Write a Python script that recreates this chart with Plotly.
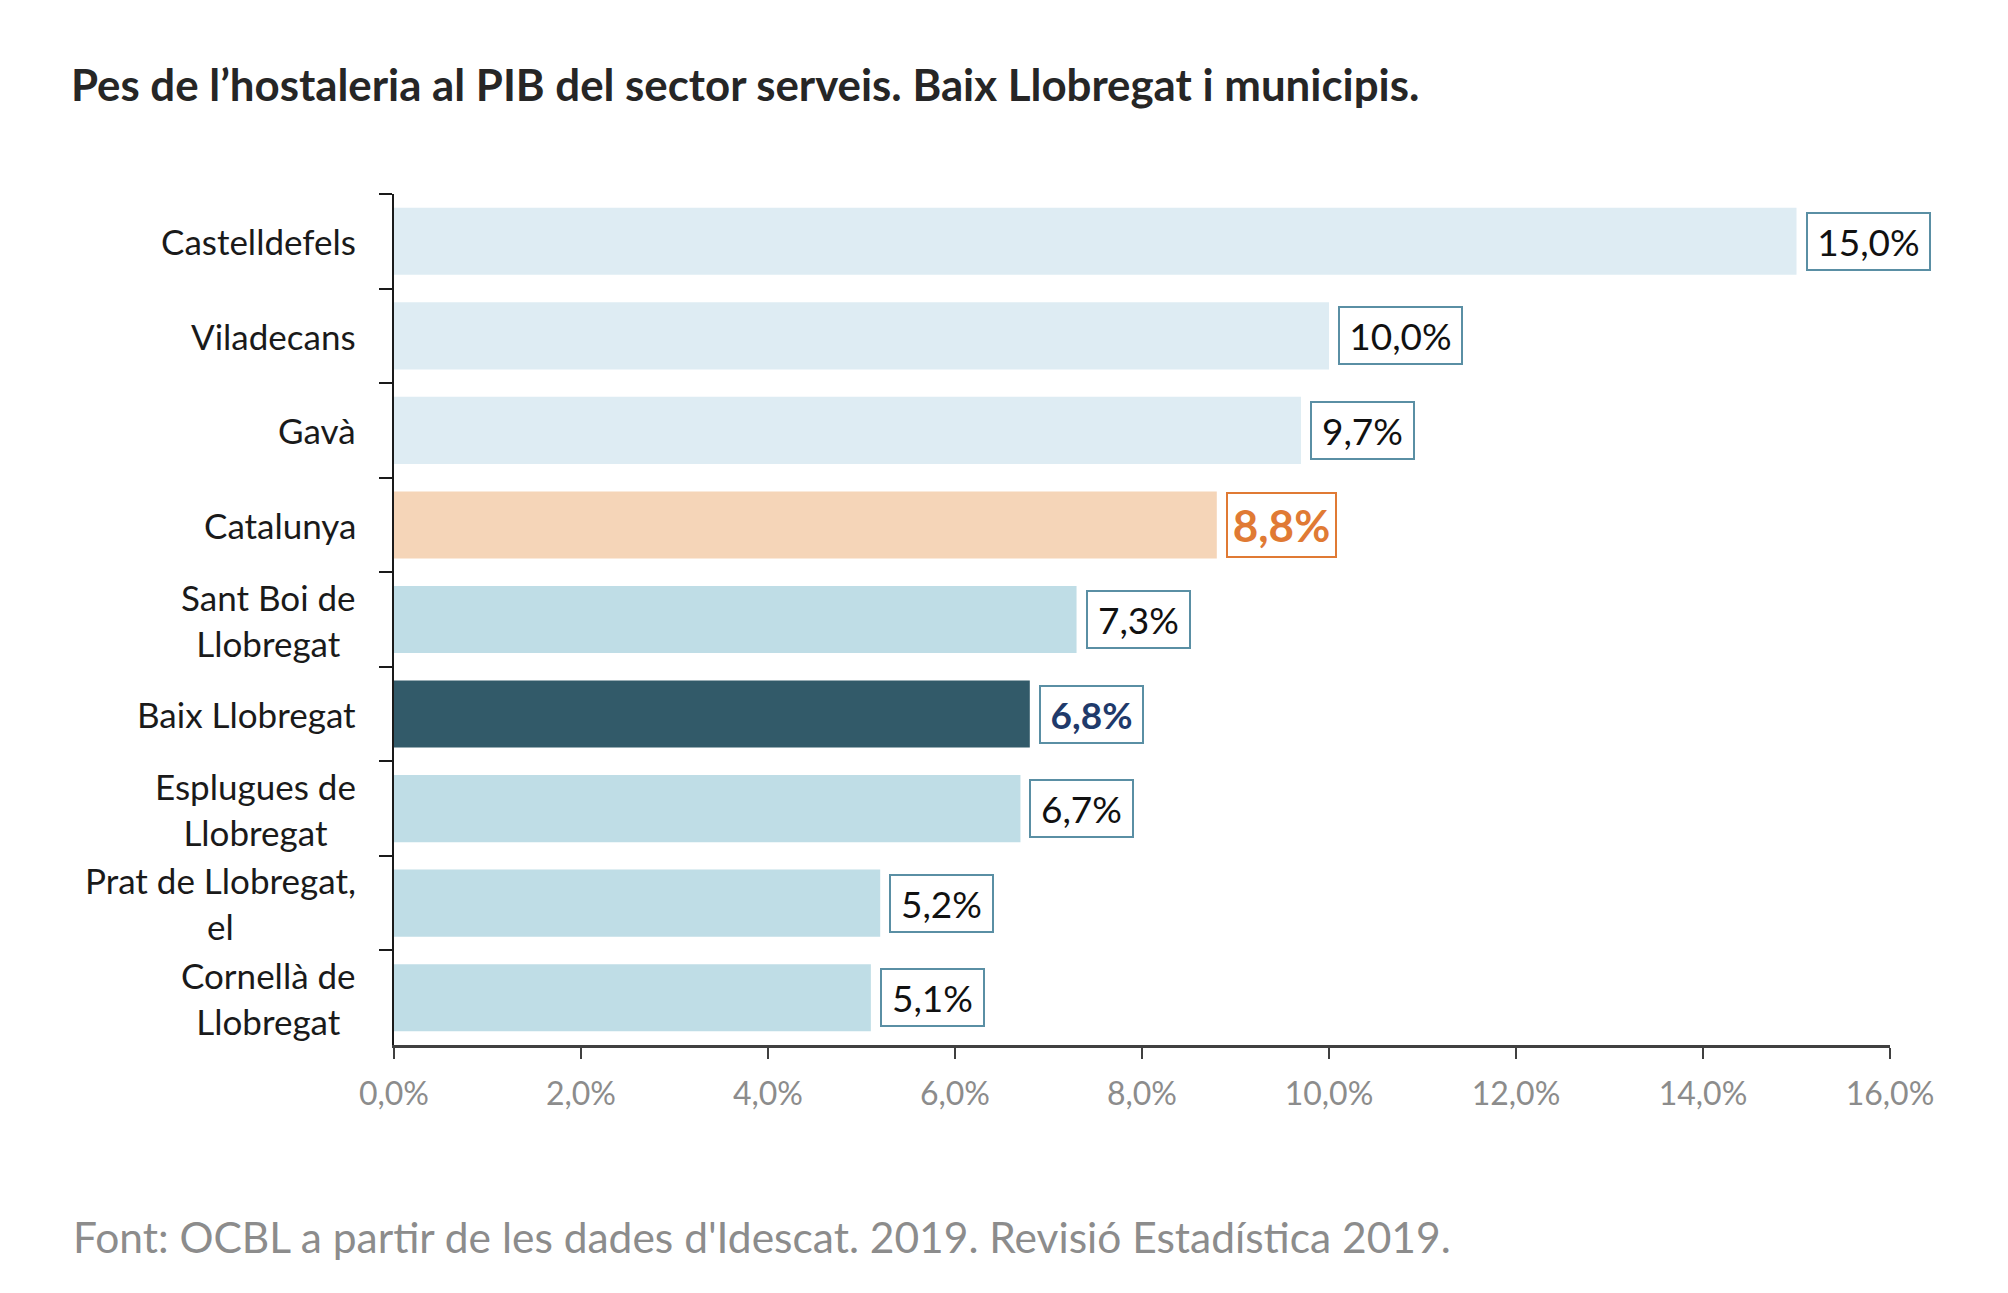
import plotly.graph_objects as go

# data
municipis = ["Castelldefels", "Viladecans", "Gavà", "Catalunya",
             "Sant Boi de<br>Llobregat", "Baix Llobregat",
             "Esplugues de<br>Llobregat", "Prat de Llobregat,<br>el",
             "Cornellà de<br>Llobregat"]
pes_hostaleria = [15.0, 10.0, 9.7, 8.8, 7.3, 6.8, 6.7, 5.2, 5.1]
x_ticks = [0, 2, 4, 6, 8, 10, 12, 14, 16]
x_tick_labels = ["0,0%", "2,0%", "4,0%", "6,0%", "8,0%", "10,0%", "12,0%", "14,0%", "16,0%"]

titol = "Pes de l\u2019hostaleria al PIB del sector serveis. Baix Llobregat i municipis."
font_text = "Font: OCBL a partir de les dades d'Idescat. 2019. Revisió Estadística 2019."

FONT = "Lato"
L, R, T, B = 386, 126, 186, 256
W, H = 2008, 1293
PW, PH = W - L - R, H - T - B

# bar colours per row
bar_colors = []
for m in municipis:
    if m == "Catalunya":
        bar_colors.append("#F5D5B8")
    elif m == "Baix Llobregat":
        bar_colors.append("#325A69")
    elif m in ("Castelldefels", "Viladecans", "Gavà"):
        bar_colors.append("#DEECF3")
    else:
        bar_colors.append("#BFDDE6")

fig = go.Figure(go.Bar(
    x=pes_hostaleria,
    y=municipis,
    orientation="h",
    marker=dict(color=bar_colors, line=dict(width=0)),
    hoverinfo="skip",
))

# value labels in boxes
for m, v in zip(municipis, pes_hostaleria):
    txt = f"{v:.1f}%".replace(".", ",")
    color, border, size, bold = "#111111", "#5A8FA4", 37, False
    if m == "Catalunya":
        color, border, size, bold = "#E07A34", "#E07A34", 44, True
    elif m == "Baix Llobregat":
        color, bold = "#1F3A6B", True
    fig.add_annotation(
        x=v, y=m, xref="x", yref="y",
        text=f"<b>{txt}</b>" if bold else txt,
        showarrow=False, xanchor="left", yanchor="middle", xshift=9,
        width=20 * len(txt) + 11 + (6 if m == "Catalunya" else 0),
        font=dict(family=FONT, size=size, color=color),
        bgcolor="white", bordercolor=border, borderwidth=2, borderpad=5,
    )

# category labels, centred lines like the original
for m in municipis:
    fig.add_annotation(
        x=0, y=m, xref="paper", yref="y",
        text=m, showarrow=False, xanchor="right", yanchor="middle",
        xshift=-36, align="center",
        font=dict(family=FONT, size=35, color="#1a1a1a"),
    )

# source note
fig.add_annotation(
    x=(63 - L) / PW, y=(H - B - 1228) / PH, xref="paper", yref="paper",
    text=font_text, showarrow=False, xanchor="left", yanchor="middle",
    font=dict(family=FONT, size=42.5, color="#8C8C8C"),
)

fig.update_layout(
    width=W, height=H,
    paper_bgcolor="white", plot_bgcolor="white",
    margin=dict(l=L, r=R, t=T, b=B),
    title=dict(text=f"<b>{titol}</b>", x=63 / W, xref="container", xanchor="left",
               y=1 - 78 / H, yref="container", yanchor="middle",
               font=dict(family=FONT, size=43.8, color="#262626")),
    bargap=0.29,
    showlegend=False,
    xaxis=dict(range=[0, 16], tickvals=x_ticks, ticktext=x_tick_labels,
               showgrid=False, zeroline=False,
               showline=True, linecolor="#404040", linewidth=3,
               ticks="outside", ticklen=11, tickwidth=1.5, tickcolor="#404040",
               ticklabelstandoff=8,
               tickfont=dict(family=FONT, size=32, color="#8C8C8C")),
    yaxis=dict(autorange="reversed", showgrid=False, zeroline=False,
               showline=True, linecolor="#1a1a1a", linewidth=2,
               ticks="outside", tickson="boundaries", ticklen=13, tickwidth=2,
               tickcolor="#1a1a1a", showticklabels=False),
)

fig.write_html("out.html")
